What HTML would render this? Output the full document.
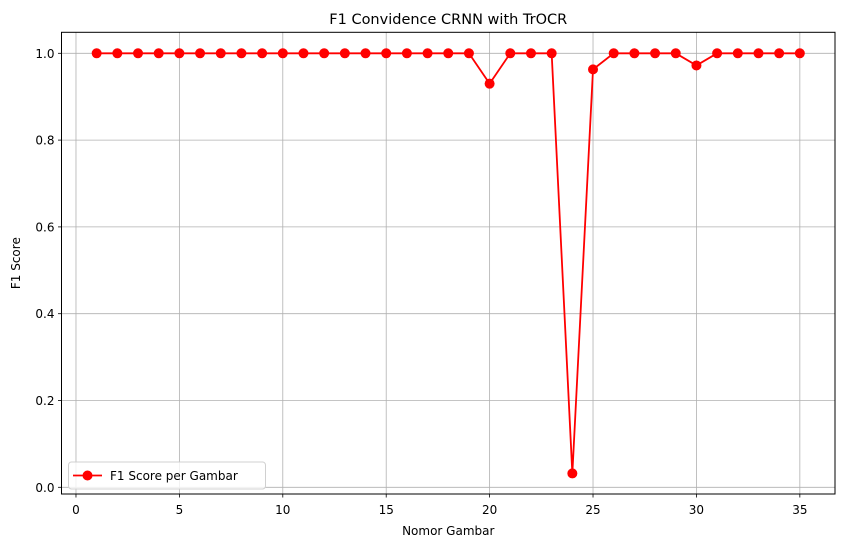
<!DOCTYPE html>
<html><head><meta charset="utf-8"><style>
body{margin:0;background:#fff;font-family:"DejaVu Sans","Liberation Sans",sans-serif;}
svg text{font-family:"DejaVu Sans","Liberation Sans",sans-serif;}
</style></head><body>
<svg id="chart" width="846" height="547" xmlns="http://www.w3.org/2000/svg"></svg>
<script>
const categories = [1,2,3,4,5,6,7,8,9,10,11,12,13,14,15,16,17,18,19,20,21,22,23,24,25,26,27,28,29,30,31,32,33,34,35];
const f1Scores = [1,1,1,1,1,1,1,1,1,1,1,1,1,1,1,1,1,1,1,0.93,1,1,1,0.032,0.963,1,1,1,1,0.972,1,1,1,1,1];
const xTicks = [0,5,10,15,20,25,30,35];
const yTicks = [0.0,0.2,0.4,0.6,0.8,1.0];
const yTickLabels = ["0.0","0.2","0.4","0.6","0.8","1.0"];

const NS="http://www.w3.org/2000/svg";
const svg=document.getElementById('chart');
const L=61.5,R=835,T=32.3,B=494;
const xMin=-0.7,xMax=36.7;
const y0px=487.3,y1px=53.3;
const X=v=>L+(v-xMin)/(xMax-xMin)*(R-L);
const Y=v=>y0px+(y1px-y0px)*v;
function mk(tag,attrs,parent){const e=document.createElementNS(NS,tag);for(const k in attrs)e.setAttribute(k,attrs[k]);(parent||svg).appendChild(e);return e;}

const grid=mk('g',{});


xTicks.forEach(t=>{mk('line',{x1:X(t),x2:X(t),y1:T,y2:B,stroke:'#b0b0b0','stroke-width':0.8},grid);});
yTicks.forEach(t=>{mk('line',{x1:L,x2:R,y1:Y(t),y2:Y(t),stroke:'#b0b0b0','stroke-width':0.8},grid);});

const xa=mk('g',{});


xTicks.forEach(t=>{
  mk('line',{x1:X(t),x2:X(t),y1:B,y2:B+3.5,stroke:'#000','stroke-width':0.8},xa);
  const tx=mk('text',{x:X(t),y:B+20,'text-anchor':'middle','font-size':12},xa);tx.textContent=t;
});
const ya=mk('g',{});


yTicks.forEach((t,i)=>{
  mk('line',{x1:L-3.5,x2:L,y1:Y(t),y2:Y(t),stroke:'#000','stroke-width':0.8},ya);
  const tx=mk('text',{x:L-7,y:Y(t)+4.5,'text-anchor':'end','font-size':12},ya);tx.textContent=yTickLabels[i];
});

const pts=categories.map((c,i)=>X(c)+','+Y(f1Scores[i])).join(' ');
const line=mk('polyline',{points:pts,fill:'none',stroke:'#ff0000','stroke-width':1.8});


categories.forEach((c,i)=>{
  const p=mk('circle',{cx:X(c),cy:Y(f1Scores[i]),r:5,fill:'#ff0000'});
  
  
});

mk('rect',{x:L,y:T,width:R-L,height:B-T,fill:'none',stroke:'#000','stroke-width':1});

const title=mk('text',{x:(L+R)/2,y:24,'text-anchor':'middle','font-size':14.5});title.textContent='F1 Convidence CRNN with TrOCR';


const xt=mk('text',{x:(L+R)/2,y:535,'text-anchor':'middle','font-size':12});xt.textContent='Nomor Gambar';


const yt=mk('text',{x:20,y:(T+B)/2,'text-anchor':'middle','font-size':12,transform:`rotate(-90 20 ${(T+B)/2})`});yt.textContent='F1 Score';



const lg=mk('g',{});


mk('rect',{x:68.5,y:462,width:197,height:27,rx:3,fill:'#fff','fill-opacity':0.8,stroke:'#d0d0d0','stroke-width':1},lg);
mk('line',{x1:73,x2:102,y1:475.5,y2:475.5,stroke:'#ff0000','stroke-width':1.8},lg);
mk('circle',{cx:87.5,cy:475.5,r:5,fill:'#ff0000'},lg);
const lt=mk('text',{x:110,y:480,'font-size':12},lg);lt.textContent='F1 Score per Gambar';


</script>
</body></html>
